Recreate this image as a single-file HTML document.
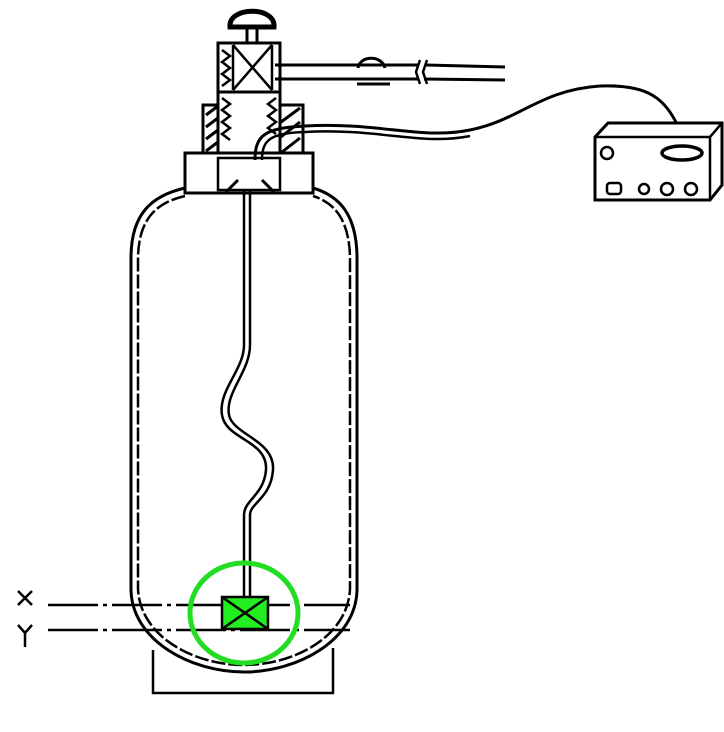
<!DOCTYPE html>
<html><head><style>body{margin:0;background:#fff}svg{display:block}</style></head><body>
<svg width="724" height="732" viewBox="0 0 724 732" xmlns="http://www.w3.org/2000/svg" fill="none" stroke="#000" stroke-width="2.5">
<!-- cylinder outer -->
<path d="M185,188 C150,196 132,215 131,255 L131,590 C132,640 190,672 244,672 C298,672 356,640 357,590 L357,255 C356,215 340,196 313,188" stroke-width="3"/>
<path d="M185,196 C155,203 139,220 138,257 L138,588 C139,635 192,665 244,665 C296,665 349,635 350,588 L350,257 C349,220 335,203 313,196" stroke-dasharray="14 3"/>
<!-- base -->
<path d="M153,650 L153,693 L333,693 L333,648" stroke-width="2.5"/>
<!-- neck block -->
<rect x="185" y="153" width="128" height="40" fill="#fff" stroke-width="3"/>
<rect x="218" y="158" width="62" height="32" fill="#fff"/>
<path d="M226,192 L238,180 M262,180 L274,192" stroke-width="3"/>
<!-- lower threaded section -->
<rect x="203" y="105" width="22" height="48" fill="#fff" stroke-width="3"/>
<rect x="274" y="105" width="29" height="48" fill="#fff" stroke-width="3"/>
<path d="M206,115 L222,103 M206,127 L222,115 M206,139 L222,127 M206,151 L222,139 M277,125 L300,108 M277,140 L300,122 M282,152 L300,138" stroke-width="3"/>
<rect x="218" y="92" width="62" height="61" fill="#fff" stroke-width="3"/>
<path d="M222,98 l8,6 l-8,6 l8,6 l-8,6 l8,6 l-8,6 l8,6 M276,98 l-8,6 l8,6 l-8,6 l8,6 l-8,6 l8,6" stroke-width="2.5"/>
<!-- valve body -->
<rect x="218" y="43" width="62" height="49" fill="#fff" stroke-width="3"/>
<path d="M233,45 L272,90 M272,45 L233,90 M233,45 L233,90 M272,45 L272,90" stroke-width="2.5"/>
<path d="M222,50 l8,6 l-8,6 l8,6 l-8,6 l8,6 l-8,6" />
<!-- knob -->
<rect x="247" y="24" width="10" height="19" fill="#fff" stroke-width="3"/>
<path d="M230,27 C228,6 276,6 274,27 Z" fill="#fff" stroke-width="5"/>
<!-- outlet pipe -->
<path d="M275,65 L418,65 M275,79 L418,79 M426,65 L505,67 M424,79 L505,80" stroke-width="3"/>
<path d="M420,60 L416,72 L420,84 M427,60 L423,72 L427,84"/>
<path d="M358,68 C360,55 382,55 385,68 M357,84 L390,84" stroke-width="3"/>
<!-- cable -->
<path d="M255,160 C255,135 265,128 305,126 C380,122 420,140 470,130 C520,120 540,90 600,86 C650,84 665,100 678,126" stroke-width="3"/>
<path d="M262,160 C262,140 270,133 305,132 C380,128 420,146 470,136" />
<!-- dip tube -->
<path d="M244,190 L244,345 C244,370 218,390 222,415 C226,440 268,440 266,470 C264,495 244,500 244,515 L244,597"/>
<path d="M250,190 L250,345 C250,372 225,392 229,415 C233,435 275,440 273,470 C271,498 250,503 250,515 L250,597"/>
<!-- X/Y lines -->
<path d="M48,605 L350,605" stroke-dasharray="50 5 4 5"/>
<path d="M48,630 L350,630" stroke-dasharray="50 5 4 5"/>
<path d="M18,591 L32,605 M32,591 L18,605 M18,625 L25,633 L32,625 M25,633 L25,647"/>
<!-- green element -->
<rect x="222" y="597" width="46" height="32" fill="#22ee22" stroke="#000" stroke-width="2.5"/>
<path d="M222,597 L268,629 M268,597 L222,629"/>
<ellipse cx="244" cy="613" rx="54" ry="50" stroke="#22dd22" stroke-width="5"/>
<!-- control box -->
<path d="M595,137 L608,123 L722,123 L722,185 L710,200 L595,200 Z" fill="#fff" stroke-width="3"/>
<path d="M595,137 L710,137 L722,123 M710,137 L710,200"/>
<circle cx="607" cy="153" r="6"/>
<ellipse cx="682" cy="153" rx="20" ry="7" stroke-width="3.5"/>
<rect x="607" y="183" width="14" height="11" rx="3"/>
<circle cx="644" cy="189" r="5"/><circle cx="667" cy="189" r="6"/><circle cx="691" cy="189" r="6"/>
</svg>
</body></html>
